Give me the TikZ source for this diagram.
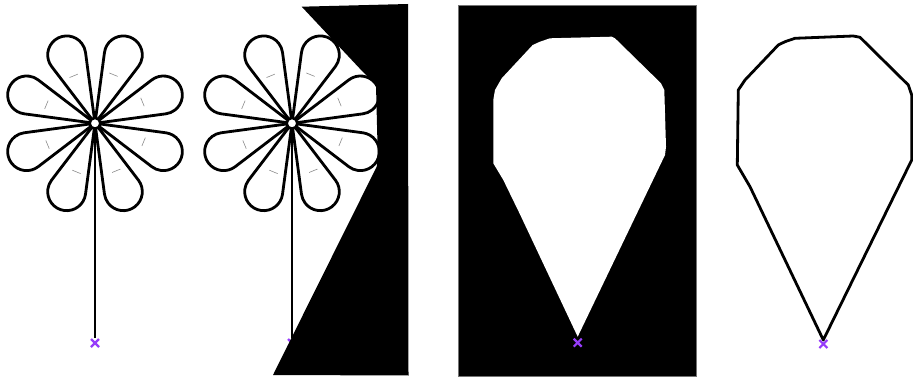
\documentclass[tikz,border=0pt]{standalone}
\begin{document}
\begin{tikzpicture}[x=1pt,y=1pt,
  petal/.style={draw=black, line width=2.8pt, line join=round},
  vein/.style={draw=black!45, line width=0.6pt},
  stem/.style={draw=black, line width=2.4pt},
  hub/.style={draw=black, fill=white, line width=2.2pt},
  anchorx/.style={draw=markpurple, line width=2.2pt},
  outline/.style={draw=black, line width=2.8pt, line join=round},
  flower/.pic={
    \foreach \a in {22.5,67.5,...,337.5} {
      \draw[petal, rotate=\a] (0,0) -- (69.12,18.36)
        arc[start angle=104.88, end angle=-104.88, radius=19] -- cycle;
      \draw[vein, rotate=\a] (52,-3) -- (52,6);
    }
    \draw[stem] (0,0) -- (0,-214.7);
    \draw[hub] (0,0) circle (5.2);
  }]
\definecolor{markpurple}{RGB}{150,60,250}
\useasboundingbox (0,0) rectangle (913,378);
\fill[white] (0,0) rectangle (913,378);

% first flower
\pic at (95,254.7) {flower};
\draw[anchorx] (91,31) -- (99,39) (91,39) -- (99,31);

% second flower, partly hidden by the mask
\pic at (292,254.7) {flower};
\draw[anchorx] (288,31) -- (296,39) (288,39) -- (296,31);
\fill[black] (301.7,371.3) -- (408,374) -- (408.5,2.5) -- (273,3)
  -- (376.7,211.3) -- (377.7,225) -- (376,293) -- (363,306) -- cycle;

% mask with the hull cut out
\fill[black, draw=black!55, line width=0.6pt] (458.3,2) rectangle (696.7,373);
\fill[white] (577.7,41.3) -- (665,223) -- (666,231.3) -- (664.3,288)
  -- (661,294.7) -- (615,339.7) -- (611.7,341.3) -- (550,339.7)
  -- (540,336.3) -- (532.7,333) -- (501.7,299.7) -- (495,288)
  -- (493.3,278) -- (493.3,214.7) -- (503.3,198) -- (519.5,164.7) -- cycle;
\draw[anchorx] (573.7,31.3) -- (581.7,39.3) (573.7,39.3) -- (581.7,31.3);

% hull outline
\draw[outline] (823.3,38) -- (911.7,218) -- (911.7,283) -- (908.3,293)
  -- (860,340.7) -- (853.3,342) -- (795,339.7) -- (785,336.3)
  -- (778.3,333) -- (745,298) -- (738.3,288) -- (737.3,213)
  -- (750,191.3) -- cycle;
\draw[anchorx] (819.3,30) -- (827.3,38) (819.3,38) -- (827.3,30);
\end{tikzpicture}
\end{document}
